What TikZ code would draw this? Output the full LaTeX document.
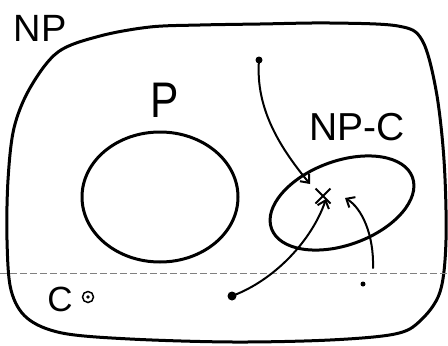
\documentclass[tikz,border=0pt]{standalone}
\usepackage{fontspec}
\setmainfont{Liberation Sans}
\usetikzlibrary{arrows.meta,shapes.misc,calc}
\tikzset{
  pen/.style={line width=3pt, line cap=round, line join=round},
  thinpen/.style={line width=2pt, line cap=round},
  arr/.style={thinpen, -{Straight Barb[length=7pt,width=12pt,line width=2pt]}},
  dotnode/.style={circle, fill=black, inner sep=0pt},
  lbl/.style={inner sep=0pt, font=\fontsize{38}{38}\selectfont}
}
\begin{document}
\begin{tikzpicture}[x=1pt,y=-1pt]
\useasboundingbox (0,0) rectangle (448,346);
% outer NP region
\draw[pen] plot[smooth cycle, tension=0.55] coordinates {
 (58,52) (100,36) (150,27) (200,25) (260,24) (330,23) (398,26) (422,40)
 (436,90) (444,160) (446,240) (440,292) (420,321) (395,334) (330,340)
 (233,342) (130,339) (62,333) (27,318) (11,290) (7,240) (8,180) (14,128) (30,88)};
\node[lbl] (np) at (40,28) {NP};
% P
\draw[pen] (160,197) ellipse [x radius=78, y radius=65];
\node[lbl, font=\fontsize{50}{50}\selectfont, xscale=0.85] (p) at (165,100) {P};
% NP-C
\draw[pen, rotate around={20:(342,203)}] (342,203) ellipse [x radius=75, y radius=42];
\node[lbl, font=\fontsize{39}{39}\selectfont] (npc) at (357,127) {NP-C};
% dashed separator
\draw[gray, line width=0.7pt, dash pattern=on 7pt off 3pt] (0,273) -- (448,273);
% C
\node[lbl, font=\fontsize{35}{35}\selectfont] (c) at (60,299) {C};
\draw[line width=1.5pt] (88,297) circle (5.5);
\fill (88,297) circle (1.8);
% points and arrows
\node[cross out, draw, line width=2pt, minimum size=13pt, inner sep=0pt] (x) at (323,196) {};
\node[dotnode, minimum size=7pt] (d1) at (259,60) {};
\node[dotnode, minimum size=9pt] (d2) at (232,296) {};
\node[dotnode, minimum size=5pt] (d3) at (363,284) {};
\coordinate (s3) at (373,268);
\coordinate (t1) at (310,184);
\coordinate (t2) at (326,199);
\coordinate (t3) at (345,198);
\draw[arr] (d1.center) .. controls (255,110) and (282,150) .. (t1);
\draw[arr] (d2.center) .. controls (275,280) and (312,240) .. (t2);
\draw[arr] (s3) .. controls (374,235) and (362,208) .. (t3);
\end{tikzpicture}
\end{document}
